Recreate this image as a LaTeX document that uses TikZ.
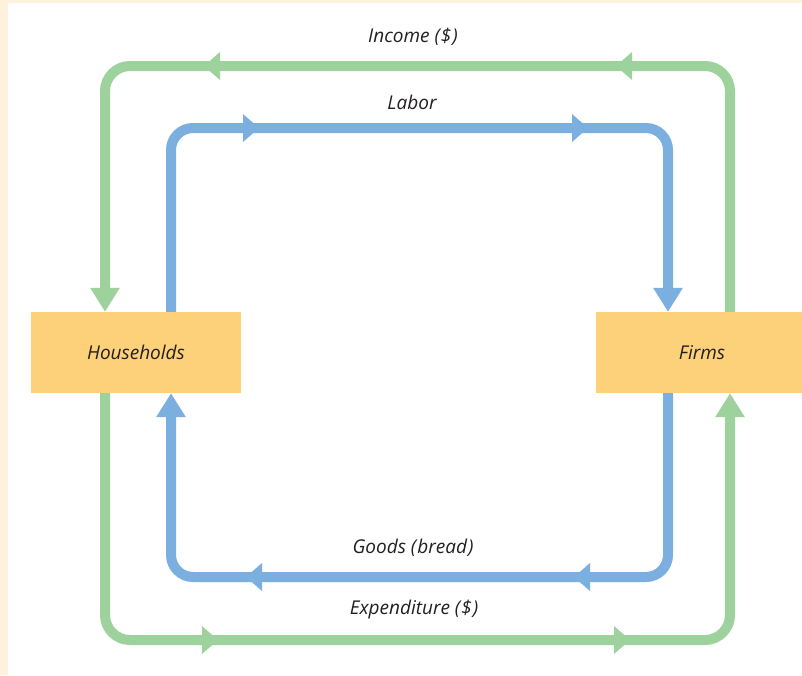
\documentclass[tikz,border=0pt]{standalone}
\usepackage{fontspec}
\setmainfont{Open Sans}
\usetikzlibrary{arrows.meta}
\definecolor{cream}{HTML}{FEF2DC}
\definecolor{boxfill}{HTML}{FDD07A}
\definecolor{gflow}{HTML}{9DD29C}
\definecolor{bflow}{HTML}{7AAFDF}
\definecolor{txt}{HTML}{231F20}
\begin{document}
\begin{tikzpicture}[x=1pt,y=-1pt,
  agent/.style={fill=boxfill,draw=none,minimum width=210pt,minimum height=81pt,inner sep=0pt,
    text=txt,font=\fontsize{19}{22}\selectfont\itshape},
  flowlabel/.style={text=txt,font=\fontsize{19}{22}\selectfont\itshape,inner sep=0pt},
  gline/.style={draw=gflow,line width=10pt,rounded corners=25pt,-{Triangle[length=24pt,width=28pt]}},
  bline/.style={draw=bflow,line width=10pt,rounded corners=22pt,-{Triangle[length=24pt,width=28pt]}},
  midhead/.pic={\fill (-8,-14) -- (8,0) -- (-8,14) -- cycle;}
]
\useasboundingbox (0,0) rectangle (802,675);
\fill[cream] (0,0) rectangle (802,675);
\fill[white] (8,3) rectangle (802,675);

\node[agent] (H) at (136,352.5) {Households};
\node[agent,minimum width=206pt] (F) at (699,352.5) {\hspace*{6pt}Firms};

\coordinate (gL) at (105,66);
\coordinate (gR) at (730,640);
\coordinate (bL) at (171,128);
\coordinate (bR) at (668,577);

% Income (green, top)
\draw[gline] (F.north -| gR) |- (gL) -- (H.north -| gL);
% Labor (blue, top)
\draw[bline] (H.north -| bL) |- (bR |- bL) -- (F.north -| bR);
% Goods (blue, bottom)
\draw[bline] (F.south -| bR) |- (bL |- bR) -- (H.south -| bL);
% Expenditure (green, bottom)
\draw[gline] (H.south -| gL) |- (gR |- gR) -- (F.south -| gR);

% mid-path arrowheads
\begin{scope}[gflow]
\pic[rotate=180] at (212,66) {midhead};
\pic[rotate=180] at (624,66) {midhead};
\pic at (210,640) {midhead};
\pic at (622,640) {midhead};
\end{scope}
\begin{scope}[bflow]
\pic at (251,128) {midhead};
\pic at (580,128) {midhead};
\pic[rotate=180] at (254,577) {midhead};
\pic[rotate=180] at (582,577) {midhead};
\end{scope}

\node[flowlabel] (inc) at (413,37) {Income (\kern1pt\$\kern1pt)};
\node[flowlabel] (lab) at (412,102) {Labor};
\node[flowlabel] (goo) at (413,548) {Goods (\kern1pt bread\kern1pt)};
\node[flowlabel] (exp) at (414,610) {Expenditure (\kern1pt\$\kern1pt)};
\end{tikzpicture}
\end{document}
